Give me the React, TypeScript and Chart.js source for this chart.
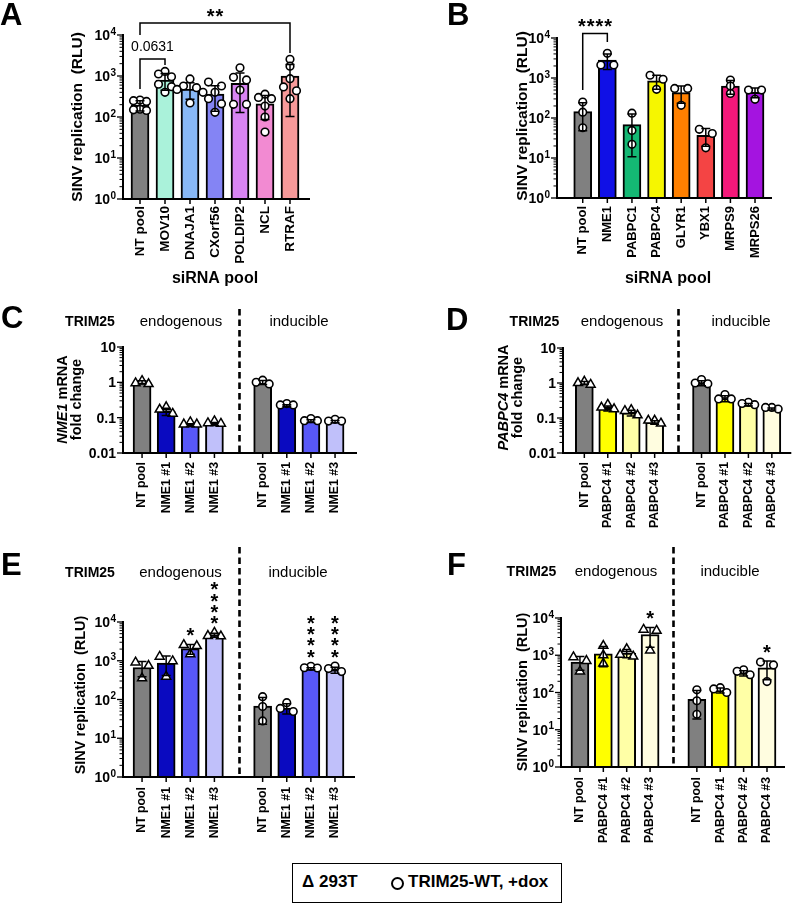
import React, { useEffect, useRef } from 'react';
import { Chart, registerables } from 'chart.js';

Chart.register(...registerables);

const FONT = '"Liberation Sans", Arial, Helvetica, sans-serif';
const fnt = (size: number, bold = true, italic = false) =>
  `${italic ? 'italic ' : ''}${bold ? 'bold ' : ''}${size}px ${FONT}`;

// ---------------- DATA ----------------
// Panel A
const aCategories = ['NT pool', 'MOV10', 'DNAJA1', 'CXorf56', 'POLDIP2', 'NCL', 'RTRAF'];
const aMeans = [195, 800, 480, 360, 660, 210, 1000];
const aPoints = [
  [260, 250, 240, 155, 150, 145],
  [1290, 1120, 960, 630, 550, 400],
  [850, 570, 520, 470, 400, 220],
  [710, 570, 400, 280, 210, 130],
  [1590, 930, 800, 455, 204, 204],
  [360, 300, 280, 185, 100, 43],
  [2560, 1740, 860, 540, 437, 280],
];
const aColors = ['#808080', '#aaf2da', '#88b8f6', '#8484f4', '#d884f2', '#f28ad2', '#f89a9a'];

// Panel B
const bCategories = ['NT pool', 'NME1', 'PABPC1', 'PABPC4', 'GLYR1', 'YBX1', 'MRPS9', 'MRPS26'];
const bMeans = [145, 2800, 68, 850, 430, 37, 630, 440];
const bPoints = [
  [250, 140, 57],
  [4150, 2120, 2120],
  [132, 49, 22],
  [1170, 930, 520],
  [550, 550, 208],
  [52, 41, 18],
  [890, 630, 410],
  [500, 500, 293],
];
const bColors = ['#808080', '#1010e6', '#14b874', '#f6f600', '#ff8000', '#f44444', '#f4187a', '#a414e0'];

// Panels C / E (NME1)
const nmeCategories = ['NT pool', 'NME1 #1', 'NME1 #2', 'NME1 #3'];
const nmeColors = ['#808080', '#0a0ac0', '#5858f8', '#c0c0fa'];
const cEndoMeans = [1.0, 0.15, 0.062, 0.066];
const cEndoPoints = [[1.1, 0.95, 0.9], [0.2, 0.17, 0.13], [0.075, 0.065, 0.065], [0.08, 0.07, 0.068]];
const cInduMeans = [1.0, 0.22, 0.08, 0.078];
const cInduPoints = [[1.15, 1.0, 0.9], [0.25, 0.23, 0.23], [0.094, 0.082, 0.082], [0.09, 0.08, 0.08]];

const eEndoMeans = [670, 870, 2050, 4600];
const eEndoPoints = [[910, 745, 353], [1280, 980, 390], [2560, 2400, 1490], [5300, 4400, 4300]];
const eInduMeans = [68, 60, 620, 580];
const eInduPoints = [[118, 66, 28], [83, 59, 49], [720, 660, 650], [730, 630, 525]];
const eEndoStars = ['', '', '*', '****'];
const eInduStars = ['', '', '****', '****'];

// Panels D / F (PABPC4)
const pabCategories = ['NT pool', 'PABPC4 #1', 'PABPC4 #2', 'PABPC4 #3'];
const pabColors = ['#808080', '#ffff00', '#ffffa6', '#fffde0'];
const dEndoMeans = [1.0, 0.19, 0.14, 0.075];
const dEndoPoints = [[1.1, 1.0, 0.9], [0.24, 0.2, 0.18], [0.17, 0.16, 0.12], [0.085, 0.085, 0.07]];
const dInduMeans = [1.0, 0.36, 0.24, 0.18];
const dInduPoints = [[1.25, 1.0, 0.95], [0.47, 0.35, 0.35], [0.28, 0.26, 0.24], [0.2, 0.2, 0.18]];

const fEndoMeans = [660, 1100, 1150, 3600];
const fEndoPoints = [[890, 710, 370], [1800, 1000, 600], [1470, 1030, 930], [4880, 4570, 1350]];
const fInduMeans = [66, 115, 330, 460];
const fInduPoints = [[118, 60, 26], [135, 125, 100], [407, 370, 300], [655, 550, 197]];
const fEndoStars = ['', '', '', '*'];
const fInduStars = ['', '', '', '*'];

// Axis ticks
const rluTicks = [1, 10, 100, 1000, 10000];
const rluExponents = ['0', '1', '2', '3', '4'];
const foldTicks = [0.01, 0.1, 1, 10];
const foldTickLabels = ['0.01', '0.1', '1', '10'];

// ---------------- TYPES ----------------
type Marker = 'circle' | 'triangle';
interface Slot {
  label: string;
  mean: number | null;
  pts: number[];
  color: string;
  marker: Marker;
  stars: string;
}
interface Part { text: string; italic?: boolean }
interface Bracket {
  i: number; j: number; top: number; leftEnd: number; rightEnd: number;
  text: string; textY: number; isStars: boolean;
}
interface PanelDef {
  id: string;
  letter: string; letterX: number; letterBase: number;
  box: [number, number, number, number];
  area: [number, number, number, number];
  xMin: number; xMax: number; yMin: number; yMax: number;
  ticks: number[]; tickLabels: string[]; pow: boolean;
  slots: Slot[];
  labelSize: number; labelGap: number;
  yTitleLines: { parts: Part[]; x: number }[];
  yTitleY: number; yTitleSize: number; yTitleMiddle: boolean;
  xTitle?: { text: string; x: number; y: number };
  headers?: { y: number; trimX: number; endoX: number; induX: number };
  dashTop?: number;
  brackets?: Bracket[];
}

function simpleSlots(cats: string[], means: number[], pts: number[][], colors: string[]): Slot[] {
  return cats.map((c, i) => ({ label: c, mean: means[i], pts: pts[i], color: colors[i], marker: 'circle', stars: '' }));
}
function splitSlots(
  cats: string[], colors: string[],
  endoMeans: number[], endoPts: number[][], induMeans: number[], induPts: number[][],
  endoStars?: string[], induStars?: string[],
): Slot[] {
  const endo: Slot[] = cats.map((c, i) => ({
    label: c, mean: endoMeans[i], pts: endoPts[i], color: colors[i], marker: 'triangle', stars: endoStars ? endoStars[i] : '',
  }));
  const gap: Slot = { label: '', mean: null, pts: [], color: '#fff', marker: 'circle', stars: '' };
  const indu: Slot[] = cats.map((c, i) => ({
    label: c, mean: induMeans[i], pts: induPts[i], color: colors[i], marker: 'circle', stars: induStars ? induStars[i] : '',
  }));
  return [...endo, gap, ...indu];
}

const PANELS: PanelDef[] = [
  {
    id: 'A', letter: 'A', letterX: 0, letterBase: 25,
    box: [0, 0, 400, 300], area: [123, 35, 310, 199],
    xMin: -0.68, xMax: 6.8, yMin: 1, yMax: 10000,
    ticks: rluTicks, tickLabels: rluExponents, pow: true,
    slots: simpleSlots(aCategories, aMeans, aPoints, aColors),
    labelSize: 13.5, labelGap: 7,
    yTitleLines: [{ parts: [{ text: 'SINV replication  (RLU)' }], x: 77.5 }],
    yTitleY: 117, yTitleSize: 15.5, yTitleMiddle: true,
    xTitle: { text: 'siRNA pool', x: 215, y: 279 },
    brackets: [
      { i: 0, j: 6, top: 23, leftEnd: 35, rightEnd: 53, text: '**', textY: 12.5, isStars: true },
      { i: 0, j: 1, top: 59, leftEnd: 89, rightEnd: 65, text: '0.0631', textY: 47, isStars: false },
    ],
  },
  {
    id: 'B', letter: 'B', letterX: 447, letterBase: 25,
    box: [400, 0, 398, 300], area: [557, 38, 772, 198],
    xMin: -1.045, xMax: 7.69, yMin: 1, yMax: 10000,
    ticks: rluTicks, tickLabels: rluExponents, pow: true,
    slots: simpleSlots(bCategories, bMeans, bPoints, bColors),
    labelSize: 13, labelGap: 8,
    yTitleLines: [{ parts: [{ text: 'SINV replication  (RLU)' }], x: 522.5 }],
    yTitleY: 116, yTitleSize: 15.5, yTitleMiddle: true,
    xTitle: { text: 'siRNA pool', x: 668, y: 279 },
    brackets: [
      { i: 0, j: 1, top: 33.5, leftEnd: 90, rightEnd: 42, text: '****', textY: 23, isStars: true },
    ],
  },
  {
    id: 'C', letter: 'C', letterX: 1, letterBase: 328,
    box: [0, 300, 400, 245], area: [123, 347, 357, 453],
    xMin: -0.79, xMax: 8.91, yMin: 0.01, yMax: 10,
    ticks: foldTicks, tickLabels: foldTickLabels, pow: false,
    slots: splitSlots(nmeCategories, nmeColors, cEndoMeans, cEndoPoints, cInduMeans, cInduPoints),
    labelSize: 12.3, labelGap: 9,
    yTitleLines: [
      { parts: [{ text: 'NME1', italic: true }, { text: ' mRNA' }], x: 66.5 },
      { parts: [{ text: 'fold change' }], x: 80.5 },
    ],
    yTitleY: 399.5, yTitleSize: 14.5, yTitleMiddle: false,
    headers: { y: 322, trimX: 90, endoX: 181, induX: 299 },
    dashTop: 309,
  },
  {
    id: 'D', letter: 'D', letterX: 446, letterBase: 330,
    box: [400, 300, 398, 245], area: [563, 348, 798, 453],
    xMin: -0.91, xMax: 8.83, yMin: 0.01, yMax: 10,
    ticks: foldTicks, tickLabels: foldTickLabels, pow: false,
    slots: splitSlots(pabCategories, pabColors, dEndoMeans, dEndoPoints, dInduMeans, dInduPoints),
    labelSize: 12.3, labelGap: 9,
    yTitleLines: [
      { parts: [{ text: 'PABPC4', italic: true }, { text: ' mRNA' }], x: 507.5 },
      { parts: [{ text: 'fold change' }], x: 521.5 },
    ],
    yTitleY: 397.5, yTitleSize: 14.5, yTitleMiddle: false,
    headers: { y: 322, trimX: 534.5, endoX: 622, induX: 741 },
    dashTop: 309,
  },
  {
    id: 'E', letter: 'E', letterX: 1, letterBase: 575,
    box: [0, 545, 400, 315], area: [123, 622, 355, 777],
    xMin: -0.79, xMax: 8.83, yMin: 1, yMax: 10000,
    ticks: rluTicks, tickLabels: rluExponents, pow: true,
    slots: splitSlots(nmeCategories, nmeColors, eEndoMeans, eEndoPoints, eInduMeans, eInduPoints, eEndoStars, eInduStars),
    labelSize: 12.3, labelGap: 10,
    yTitleLines: [{ parts: [{ text: 'SINV replication  (RLU)' }], x: 80.5 }],
    yTitleY: 695, yTitleSize: 14.5, yTitleMiddle: true,
    headers: { y: 573, trimX: 90, endoX: 180.5, induX: 298 },
    dashTop: 547,
  },
  {
    id: 'F', letter: 'F', letterX: 447, letterBase: 575,
    box: [400, 545, 398, 315], area: [561, 618, 785, 767],
    xMin: -0.81, xMax: 8.77, yMin: 1, yMax: 10000,
    ticks: rluTicks, tickLabels: rluExponents, pow: true,
    slots: splitSlots(pabCategories, pabColors, fEndoMeans, fEndoPoints, fInduMeans, fInduPoints, fEndoStars, fInduStars),
    labelSize: 12.3, labelGap: 10,
    yTitleLines: [{ parts: [{ text: 'SINV replication  (RLU)' }], x: 522.5 }],
    yTitleY: 692, yTitleSize: 14.5, yTitleMiddle: true,
    headers: { y: 572, trimX: 531.5, endoX: 616, induX: 730 },
    dashTop: 547,
  },
];

// ---------------- HELPERS ----------------
function sdOf(arr: number[]): number {
  const n = arr.length;
  if (n < 2) return 0;
  const m = arr.reduce((a, b) => a + b, 0) / n;
  return Math.sqrt(arr.reduce((a, b) => a + (b - m) * (b - m), 0) / (n - 1));
}

// GraphPad-like scatter spreading: points close in value share a row and spread sideways
function swarmOffsets(values: number[], pxPerDecade: number, thresh: number, step: number): number[] {
  const order = values.map((_, i) => i).sort((a, b) => values[b] - values[a]);
  const offs = new Array(values.length).fill(0);
  let row: number[] = [];
  const flush = () => {
    const k = row.length;
    const pattern = k % 2 === 1 ? [0, -1, 1, -2, 2, -3, 3] : [-1, 1, -2, 2, -3, 3];
    row.forEach((ii, j) => { offs[ii] = pattern[j] * step; });
    row = [];
  };
  order.forEach((ii) => {
    if (row.length) {
      const prev = row[row.length - 1];
      const d = (Math.log10(values[prev]) - Math.log10(values[ii])) * pxPerDecade;
      if (d > thresh) flush();
    }
    row.push(ii);
  });
  flush();
  return offs;
}

function drawStar(ctx: CanvasRenderingContext2D, x: number, y: number) {
  ctx.font = fnt(20);
  ctx.textAlign = 'center';
  ctx.textBaseline = 'alphabetic';
  const m = ctx.measureText('*');
  const base = y + (m.actualBoundingBoxAscent - m.actualBoundingBoxDescent) / 2;
  ctx.fillText('*', x, base);
}

function drawDecor(chart: Chart, def: PanelDef) {
  const ctx = chart.ctx;
  const xs = chart.scales.x;
  const ys = chart.scales.y;
  const [L, T] = def.box;
  const cx = (v: number) => v - L;
  const cy = (v: number) => v - T;
  const X = (v: number) => xs.getPixelForValue(v);
  const Y = (v: number) => ys.getPixelForValue(v);
  const area = chart.chartArea;

  ctx.save();
  ctx.strokeStyle = '#000';
  ctx.fillStyle = '#000';
  ctx.lineCap = 'butt';

  // error bars (mean ± SD)
  ctx.lineWidth = 1.5;
  def.slots.forEach((s, i) => {
    if (s.mean == null) return;
    const d = sdOf(s.pts);
    const hi = s.mean + d;
    let lo = s.mean - d;
    const clipped = lo <= def.yMin;
    if (clipped) lo = def.yMin;
    const x = X(i);
    const yH = Y(hi);
    const yL = Y(lo);
    ctx.beginPath();
    ctx.moveTo(x, yH); ctx.lineTo(x, yL);
    ctx.moveTo(x - 4.5, yH); ctx.lineTo(x + 4.5, yH);
    if (!clipped) { ctx.moveTo(x - 4.5, yL); ctx.lineTo(x + 4.5, yL); }
    ctx.stroke();
  });

  // axes
  ctx.lineWidth = 2;
  ctx.beginPath();
  ctx.moveTo(area.left, Y(def.yMax) - 1);
  ctx.lineTo(area.left, area.bottom);
  ctx.lineTo(area.right, area.bottom);
  ctx.stroke();

  // y ticks (major + minor)
  const eLo = Math.round(Math.log10(def.yMin));
  const eHi = Math.round(Math.log10(def.yMax));
  ctx.lineWidth = 1.3;
  for (let e = eLo; e <= eHi; e++) {
    const base = Math.pow(10, e);
    const y = Y(base);
    ctx.beginPath(); ctx.moveTo(area.left - 6, y); ctx.lineTo(area.left, y); ctx.stroke();
    if (e < eHi) {
      ctx.lineWidth = 1;
      for (let k = 2; k <= 9; k++) {
        const yy = Y(k * base);
        ctx.beginPath(); ctx.moveTo(area.left - 3.5, yy); ctx.lineTo(area.left, yy); ctx.stroke();
      }
      ctx.lineWidth = 1.3;
    }
  }

  // y tick labels
  const right = area.left - 7;
  def.ticks.forEach((t, k) => {
    const y = Y(t);
    const base = y + 14 * 0.358;
    ctx.textBaseline = 'alphabetic';
    if (def.pow) {
      ctx.font = fnt(10);
      const ws = ctx.measureText(def.tickLabels[k]).width;
      ctx.textAlign = 'left';
      ctx.fillText(def.tickLabels[k], right - ws, base - 5.5);
      ctx.font = fnt(14);
      ctx.textAlign = 'right';
      ctx.fillText('10', right - ws - 0.3, base);
    } else {
      ctx.font = fnt(14);
      ctx.textAlign = 'right';
      ctx.fillText(def.tickLabels[k], right, base);
    }
  });

  // x ticks and rotated labels
  ctx.lineWidth = 1.5;
  def.slots.forEach((s, i) => {
    if (!s.label) return;
    const x = X(i);
    ctx.beginPath(); ctx.moveTo(x, area.bottom); ctx.lineTo(x, area.bottom + 5); ctx.stroke();
    ctx.save();
    ctx.translate(x, area.bottom + def.labelGap);
    ctx.rotate(-Math.PI / 2);
    ctx.font = fnt(def.labelSize);
    ctx.textAlign = 'right';
    ctx.textBaseline = 'middle';
    ctx.fillText(s.label, 0, 0);
    ctx.restore();
  });

  // y axis title
  def.yTitleLines.forEach((line) => {
    ctx.save();
    ctx.translate(cx(line.x), cy(def.yTitleY));
    ctx.rotate(-Math.PI / 2);
    const widths = line.parts.map((p) => { ctx.font = fnt(def.yTitleSize, true, !!p.italic); return ctx.measureText(p.text).width; });
    const total = widths.reduce((a, b) => a + b, 0);
    let px = -total / 2;
    ctx.textAlign = 'left';
    ctx.textBaseline = def.yTitleMiddle ? 'middle' : 'alphabetic';
    line.parts.forEach((p, k) => {
      ctx.font = fnt(def.yTitleSize, true, !!p.italic);
      ctx.fillText(p.text, px, 0);
      px += widths[k];
    });
    ctx.restore();
  });

  // x axis title
  if (def.xTitle) {
    ctx.font = fnt(16);
    ctx.textAlign = 'center';
    ctx.textBaseline = 'middle';
    ctx.fillText(def.xTitle.text, cx(def.xTitle.x), cy(def.xTitle.y));
  }

  // headers + dashed divider
  if (def.headers) {
    const h = def.headers;
    ctx.textAlign = 'center';
    ctx.textBaseline = 'middle';
    ctx.font = fnt(14);
    ctx.fillText('TRIM25', cx(h.trimX), cy(h.y));
    ctx.font = fnt(15, false);
    ctx.fillText('endogenous', cx(h.endoX), cy(h.y));
    ctx.fillText('inducible', cx(h.induX), cy(h.y));
  }
  if (def.dashTop != null) {
    const gapIdx = def.slots.findIndex((s) => s.mean == null);
    const x = Math.round(X(gapIdx)) + 0.5;
    ctx.save();
    ctx.lineWidth = 2.6;
    ctx.setLineDash([6.5, 4]);
    ctx.beginPath();
    ctx.moveTo(x, cy(def.dashTop));
    ctx.lineTo(x, area.bottom);
    ctx.stroke();
    ctx.restore();
  }

  // brackets
  (def.brackets || []).forEach((b) => {
    const x1 = X(b.i);
    const x2 = X(b.j);
    ctx.lineWidth = 1.5;
    ctx.beginPath();
    ctx.moveTo(x1, cy(b.leftEnd));
    ctx.lineTo(x1, cy(b.top));
    ctx.lineTo(x2, cy(b.top));
    ctx.lineTo(x2, cy(b.rightEnd));
    ctx.stroke();
    const mid = (x1 + x2) / 2;
    if (b.isStars) {
      const n = b.text.length;
      for (let k = 0; k < n; k++) drawStar(ctx, mid + (k - (n - 1) / 2) * 8.8, cy(b.textY));
    } else {
      ctx.font = fnt(14, false);
      ctx.textAlign = 'center';
      ctx.textBaseline = 'middle';
      ctx.fillText(b.text, mid, cy(b.textY));
    }
  });

  // stacked significance stars
  def.slots.forEach((s, i) => {
    if (!s.stars || s.mean == null) return;
    const d = sdOf(s.pts);
    const top = Math.min(Y(s.mean + d), Y(Math.max(...s.pts)));
    const x = X(i);
    for (let k = 0; k < s.stars.length; k++) drawStar(ctx, x, top - 12.5 - k * 11.3);
  });

  // panel letter
  ctx.font = fnt(31);
  ctx.textAlign = 'left';
  ctx.textBaseline = 'alphabetic';
  ctx.fillText(def.letter, cx(def.letterX), cy(def.letterBase));

  ctx.restore();
}

// ---------------- COMPONENTS ----------------
function PanelChart({ def }: { def: PanelDef }) {
  const ref = useRef<HTMLCanvasElement>(null);
  const [L, T, W, H] = def.box;
  useEffect(() => {
    if (!ref.current) return;
    const [al, at, ar, ab] = def.area;
    const pxDec = (ab - at) / (Math.log10(def.yMax) - Math.log10(def.yMin));
    const slotPx = (ar - al) / (def.xMax - def.xMin);
    const bars: { x: number; y: number }[] = [];
    const barColors: string[] = [];
    const tri: { x: number; y: number }[] = [];
    const circ: { x: number; y: number }[] = [];
    def.slots.forEach((s, i) => {
      if (s.mean == null) return;
      bars.push({ x: i, y: s.mean });
      barColors.push(s.color);
      const offs = swarmOffsets(s.pts, pxDec, 5.5, 6.5);
      s.pts.forEach((v, k) => {
        (s.marker === 'triangle' ? tri : circ).push({ x: i + offs[k] / slotPx, y: v });
      });
    });
    const chart = new Chart(ref.current, {
      type: 'bar',
      data: {
        datasets: [
          {
            type: 'bar', data: bars as any, backgroundColor: barColors, borderColor: '#000',
            borderWidth: 2, barThickness: 18, borderSkipped: 'start', order: 3,
          } as any,
          {
            type: 'scatter', data: tri as any, pointStyle: 'triangle', pointRadius: 5.2, pointHoverRadius: 5.2,
            pointBackgroundColor: '#fff', pointBorderColor: '#000', pointBorderWidth: 1.5, order: 1,
          } as any,
          {
            type: 'scatter', data: circ as any, pointStyle: 'circle', pointRadius: 3.8, pointHoverRadius: 3.8,
            pointBackgroundColor: '#fff', pointBorderColor: '#000', pointBorderWidth: 1.6, order: 2,
          } as any,
        ],
      },
      options: {
        animation: false,
        responsive: false,
        maintainAspectRatio: false,
        events: [],
        layout: { padding: { left: al - L, top: at - T, right: L + W - ar, bottom: T + H - ab } },
        plugins: { legend: { display: false }, tooltip: { enabled: false } },
        scales: {
          x: { type: 'linear', display: false, min: def.xMin, max: def.xMax, offset: false },
          y: { type: 'logarithmic', display: false, min: def.yMin, max: def.yMax },
        },
      },
      plugins: [{ id: 'decor' + def.id, afterDatasetsDraw: (c: Chart) => drawDecor(c, def) }],
    });
    return () => chart.destroy();
  }, [def]);
  return (
    <canvas
      ref={ref}
      width={W}
      height={H}
      style={{ position: 'absolute', left: L, top: T, width: W, height: H, display: 'block' }}
    />
  );
}

function Legend() {
  return (
    <div
      style={{
        position: 'absolute', left: 292, top: 863, width: 270, height: 40, border: '1.5px solid #000',
        boxSizing: 'border-box', fontFamily: FONT, fontWeight: 'bold', fontSize: 17, color: '#000',
      }}
    >
      <span style={{ position: 'absolute', left: 9, top: 8, lineHeight: '20px' }}>Δ</span>
      <span style={{ position: 'absolute', left: 26, top: 8, lineHeight: '20px' }}>293T</span>
      <span
        style={{
          position: 'absolute', left: 98, top: 12.5, width: 9, height: 9, border: '2px solid #000', borderRadius: '50%',
        }}
      />
      <span style={{ position: 'absolute', left: 115, top: 8, lineHeight: '20px' }}>TRIM25-WT, +dox</span>
    </div>
  );
}

export default function App() {
  return (
    <div style={{ position: 'absolute', left: 0, top: 0, width: 798, height: 905, background: '#fff', overflow: 'hidden' }}>
      {PANELS.map((p) => <PanelChart key={p.id} def={p} />)}
      <Legend />
    </div>
  );
}
